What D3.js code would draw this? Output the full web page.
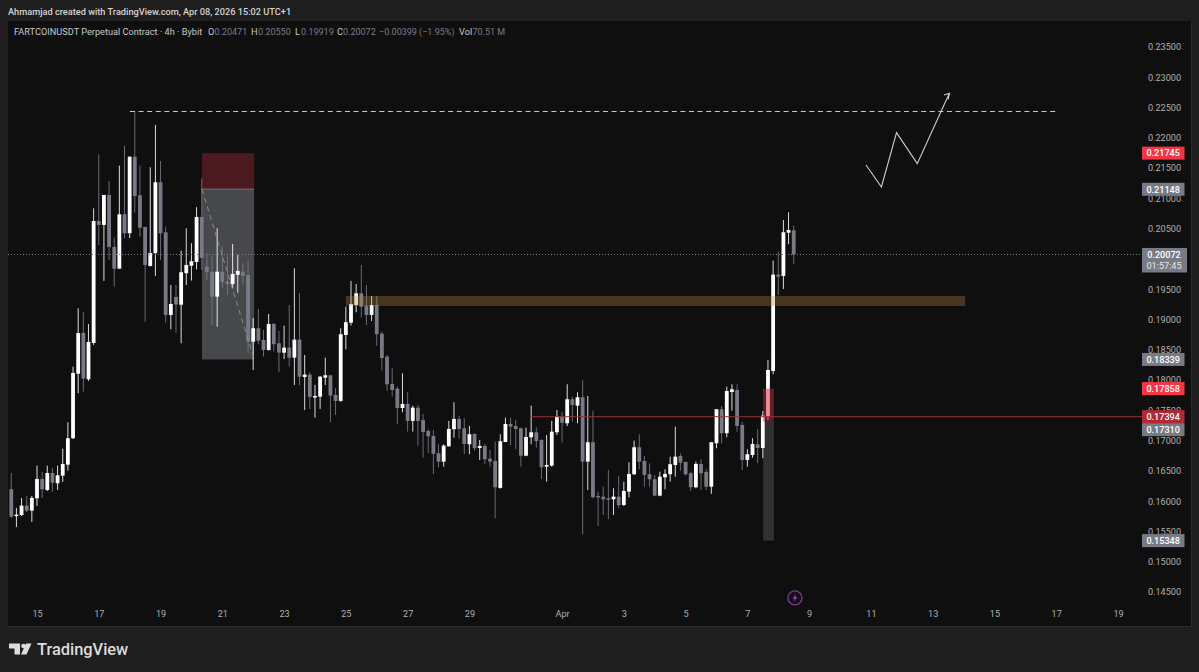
<!DOCTYPE html>
<html><head><meta charset="utf-8">
<script src="https://cdn.jsdelivr.net/npm/d3@7"></script>
<style>html,body{margin:0;padding:0;background:#1e1e1e}svg{display:block}text{font-family:Roboto,sans-serif}</style>
</head><body><div id="c"></div>
<script>
const opens=[.16185,.16196,.15764,.15772,.15926,.15843,.16047,.16366,.16185,.16465,.16295,.16421,.16602,.17038,.18104,.18776,.18012,.18611,.20625,.20559,.21054,.20196,.19838,.20735,.20422,.21686,.21049,.20526,.19882,.20092,.21264,.20438,.19073,.19370,.19243,.19762,.19887,.19948,.20691,.19871,.19783,.19375,.19788,.19623,.19585,.19739,.19788,.19734,.18633,.18854,.18661,.18496,.18925,.18606,.18451,.18534,.18368,.18666,.18050,.18088,.17715,.17725,.18038,.18078,.17753,.17654,.18743,.18946,.19238,.19431,.19227,.19073,.19238,.18765,.18385,.17934,.17857,.17538,.17604,.17324,.17543,.17340,.17159,.17076,.16790,.16652,.16906,.17187,.17357,.17203,.16939,.17109,.16878,.16911,.16701,.16663,.16218,.16977,.17274,.17241,.17203,.16751,.17054,.17137,.17010,.16569,.16586,.17137,.17395,.17286,.17682,.17576,.17715,.16652,.16972,.16086,.16074,.16047,.16031,.16074,.15937,.16157,.16444,.16889,.16663,.16444,.16361,.16091,.16394,.16444,.16597,.16746,.16647,.16460,.16229,.16614,.16482,.16239,.16955,.17517,.17121,.17802,.17835,.17257,.16680,.16762,.16939,.16878,.17395,.18149,.19739,.19717,.20432,.20471];
const highs=[.16217,.16465,.15888,.16053,.16086,.16086,.16586,.16482,.16586,.16548,.16586,.16866,.17302,.18220,.19184,.19118,.18925,.20834,.21726,.21054,.21285,.20349,.21538,.21868,.21686,.22429,.21538,.20526,.21511,.22210,.21616,.20531,.19569,.19569,.20135,.20505,.20257,.20851,.21330,.20097,.20052,.20505,.20201,.20064,.20245,.20064,.19932,.19981,.19019,.19172,.18826,.19090,.18941,.18809,.18897,.19238,.19844,.19432,.18413,.18127,.17918,.18066,.18368,.18083,.17863,.18854,.19210,.19635,.19585,.19899,.19569,.19387,.19387,.18798,.18413,.18193,.17890,.18111,.17797,.17576,.17588,.17439,.17187,.17175,.16939,.16939,.17324,.17632,.17411,.17368,.17241,.17120,.17010,.16944,.16845,.16982,.17104,.17378,.17378,.17340,.17213,.17213,.17576,.17220,.17021,.17092,.17324,.17505,.17477,.17929,.17725,.17797,.17996,.17736,.17494,.16157,.16239,.16515,.16213,.16416,.16322,.16642,.17000,.17104,.16746,.16625,.16432,.16487,.16526,.16734,.17229,.16790,.16652,.16487,.16652,.16691,.16526,.16972,.17517,.17571,.17890,.17929,.17929,.17312,.16856,.17038,.17187,.17489,.18331,.19970,.20118,.20641,.20769,.20550];
const lows=[.15821,.15722,.15574,.15755,.15821,.15656,.15920,.16053,.16168,.16157,.16185,.16317,.16503,.17026,.17781,.17807,.17984,.18578,.20229,.19635,.19981,.19541,.19833,.20339,.20344,.20762,.20366,.18963,.19874,.19717,.19981,.18946,.18837,.18781,.18606,.19569,.19640,.19827,.19816,.19651,.18908,.18880,.19519,.19403,.19514,.19441,.19569,.18446,.18165,.18590,.18385,.18484,.18468,.18127,.18347,.18220,.17918,.17913,.17505,.17522,.17378,.17522,.17918,.17302,.17423,.17642,.18507,.18897,.19118,.19035,.18908,.18974,.18562,.18154,.17819,.17725,.17269,.17467,.17147,.17147,.16916,.16718,.16790,.16449,.16559,.16569,.16899,.17048,.17038,.16779,.16774,.16833,.16680,.16609,.16569,.15717,.16206,.16972,.16927,.16856,.16569,.16741,.16939,.16883,.16366,.16322,.16569,.17092,.16965,.17241,.17312,.17286,.15453,.16185,.16047,.15590,.15772,.15701,.15772,.15882,.15920,.16064,.16432,.16526,.16239,.16239,.16081,.16081,.16196,.16322,.16404,.16503,.16421,.16168,.16213,.16185,.16185,.16119,.16873,.16955,.17054,.17494,.17147,.16515,.16569,.16718,.16625,.16708,.17340,.18094,.19403,.19502,.20240,.19919];
const closes=[.15855,.15744,.15777,.15926,.15843,.16053,.16366,.16196,.16465,.16305,.16427,.16614,.17038,.18116,.18776,.18022,.18628,.20625,.20559,.21054,.20196,.19838,.20735,.20422,.21686,.21038,.20514,.19899,.20097,.21264,.20422,.19073,.19255,.19247,.19778,.19899,.19960,.20691,.20014,.19783,.19375,.19788,.19613,.19585,.19750,.19800,.19717,.18633,.18854,.18649,.18496,.18925,.18590,.18451,.18534,.18368,.18666,.18055,.18088,.17720,.17736,.18055,.18078,.17741,.17654,.18755,.18953,.19255,.19431,.19210,.19073,.19238,.18755,.18363,.17929,.17835,.17538,.17604,.17324,.17543,.17324,.17142,.17071,.16779,.16652,.16916,.17192,.17357,.17192,.16944,.17104,.16873,.16911,.16691,.16652,.16229,.16988,.17274,.17230,.17192,.16751,.17060,.17137,.16993,.16559,.16597,.17147,.17395,.17295,.17682,.17588,.17715,.16652,.16972,.16064,.16064,.16031,.16024,.16074,.15932,.16168,.16449,.16889,.16652,.16432,.16361,.16091,.16404,.16449,.16609,.16734,.16635,.16444,.16229,.16614,.16460,.16239,.16972,.17517,.17121,.17819,.17847,.17241,.16680,.16774,.16944,.16878,.17411,.18165,.19739,.19705,.20438,.20476,.20072];

const priceTicks=[.145,.15,.155,.16,.165,.17,.175,.18,.185,.19,.195,.2,.205,.21,.215,.22,.225,.23,.235];
const timeTickDays=[15,17,19,21,23,25,27,29,32,34,36,38,40,42,44,46,48,50];
const timeTickLabels=["15","17","19","21","23","25","27","29","Apr","3","5","7","9","11","13","15","17","19"];
const labelPrices=[.21745,.21148,.18339,.17858,.17394,.17310,.15348];
const labelFills=["#f23645","#787b86","#787b86","#f23645","#b22833","#787b86","#787b86"];
const lastPrice=.20072, countdown="01:57:45";
const dashedLevel=.22441, dashedDays=[18.01,48.03];
const supplyBand=[.19222,.19387], supplyDays=[25.0,45.05];
const redLineDays=[30.99,39.4];
const positionDays=[20.34,22.03];
const entryDays=[38.51,38.86];
const pathDays=[41.84,42.34,42.83,43.50,44.54];
const pathPrices=[.21549,.21186,.22083,.21571,.22733];
const headDays=[44.37,44.54,44.50];
const headPrices=[.22705,.22733,.22630];
const boltDay=39.54, boltPrice=.14403;
const headerText="Ahmamjad created with TradingView.com, Apr 08, 2026 15:02 UTC+1";

const W=1199,H=672;
const dayDate=d=>new Date(Date.UTC(2026,2,1)+(d-1)*864e5);
const x=d3.scaleUtc().domain([dayDate(15),dayDate(50)]).range([37,1118]);
const y=d3.scaleLinear().domain([.235,.145]).range([46.8,592]);
const X=d=>x(dayDate(d));
const start=Date.UTC(2026,2,14);
const candles=opens.map((o,i)=>({t:new Date(start+i*4*36e5),o,h:highs[i],l:lows[i],c:closes[i]}));

const svg=d3.select("#c").append("svg").attr("width",W).attr("height",H);
svg.append("defs").append("clipPath").attr("id","pane").append("rect").attr("x",8).attr("y",21).attr("width",1183).attr("height",605);
svg.append("rect").attr("width",W).attr("height",H).attr("fill","#1e1e1e");
svg.append("rect").attr("x",8).attr("y",21).attr("width",1183).attr("height",605).attr("fill","#0f0f0f");
svg.append("rect").attr("x",1191).attr("y",21).attr("width",1).attr("height",605).attr("fill","#2a2a2a");
svg.append("rect").attr("x",8).attr("y",626).attr("width",1184).attr("height",1).attr("fill","#2a2a2a");

const pane=svg.append("g").attr("clip-path","url(#pane)");
const zr=(d0,d1,p0,p1,fill)=>pane.append("rect").attr("x",X(d0)).attr("width",X(d1)-X(d0)).attr("y",y(p0)).attr("height",y(p1)-y(p0)).attr("fill",fill);
zr(positionDays[0],positionDays[1],labelPrices[0],labelPrices[1],"#4a1a1e");
zr(positionDays[0],positionDays[1],labelPrices[1],labelPrices[2],"#47484c");
pane.append("line").attr("x1",X(positionDays[0])).attr("x2",X(positionDays[1])).attr("y1",y(labelPrices[1])).attr("y2",y(labelPrices[1])).attr("stroke","#6a5a5e").attr("stroke-width",1.5);
zr(entryDays[0],entryDays[1],labelPrices[5],labelPrices[6],"#303133");

const cg=pane.append("g").selectAll("g").data(candles).join("g");
const col=d=>d.c>=d.o?"#ffffff":"#787b86";
cg.append("line").attr("x1",d=>x(d.t)).attr("x2",d=>x(d.t))
  .attr("y1",d=>y(d.h)).attr("y2",d=>y(d.l)).attr("stroke",col).attr("stroke-width",1).attr("stroke-opacity",.85);
cg.append("rect").attr("x",d=>x(d.t)-1.9).attr("width",3.8)
  .attr("y",d=>y(Math.max(d.o,d.c))).attr("height",d=>Math.max(1.5,Math.abs(y(d.o)-y(d.c)))).attr("fill",col);

pane.append("line").attr("x1",X(positionDays[0])).attr("x2",X(positionDays[1])).attr("y1",y(labelPrices[1])).attr("y2",y(labelPrices[2]))
  .attr("stroke","#8a8b90").attr("stroke-width",1).attr("stroke-dasharray","5 4");
pane.append("rect").attr("x",X(supplyDays[0])).attr("width",X(supplyDays[1])-X(supplyDays[0])).attr("y",y(supplyBand[1])).attr("height",y(supplyBand[0])-y(supplyBand[1])).attr("fill","rgb(184,134,60)").attr("fill-opacity",.33);
pane.append("rect").attr("x",X(entryDays[0])).attr("width",X(entryDays[1])-X(entryDays[0])).attr("y",y(labelPrices[3])).attr("height",y(labelPrices[5])-y(labelPrices[3])).attr("fill","rgb(200,40,55)").attr("fill-opacity",.5);
pane.append("line").attr("x1",X(redLineDays[0])).attr("x2",1142).attr("y1",y(labelPrices[4])).attr("y2",y(labelPrices[4])).attr("stroke","#94303a").attr("stroke-width",1);
pane.append("line").attr("x1",8).attr("x2",1142).attr("y1",Math.round(y(lastPrice))+.5).attr("y2",Math.round(y(lastPrice))+.5).attr("stroke","#787b86").attr("stroke-dasharray","1 2").attr("stroke-width",1);
pane.append("line").attr("x1",X(dashedDays[0])).attr("x2",X(dashedDays[1])).attr("y1",Math.round(y(dashedLevel))+.5).attr("y2",Math.round(y(dashedLevel))+.5).attr("stroke","#c8c8c8").attr("stroke-dasharray","5 3.6").attr("stroke-width",1);
const ln=d3.line().x(d=>X(d[0])).y(d=>y(d[1]));
pane.append("path").attr("d",ln(pathDays.map((d,i)=>[d,pathPrices[i]]))).attr("fill","none").attr("stroke","#cfcfcf").attr("stroke-width",1.1);
pane.append("path").attr("d",ln(headDays.map((d,i)=>[d,headPrices[i]]))).attr("fill","none").attr("stroke","#cfcfcf").attr("stroke-width",1.1);
const bg=pane.append("g").attr("transform",`translate(${X(boltDay)},${y(boltPrice)})`);
bg.append("circle").attr("r",7).attr("fill","#160e19").attr("stroke","#7e3a92").attr("stroke-width",1.3);
bg.append("path").attr("d","M1,-4.2L-2.4,0.8H-0.2L-1,4.2L2.4,-0.8H0.2Z").attr("fill","#9a3fb5");

const AXF=9.1;
const yAxis=d3.axisRight(y).tickValues(priceTicks).tickFormat(d3.format(".5f")).tickSize(0).tickPadding(0);
const gy=svg.append("g").attr("transform","translate(1148,0)").call(yAxis);
gy.select(".domain").remove();
gy.selectAll("text").attr("fill","#b0b0b0").attr("font-size",AXF).attr("font-family","Roboto,sans-serif");
const xAxis=d3.axisBottom(x).tickValues(timeTickDays.map(dayDate)).tickFormat((d,i)=>timeTickLabels[i]).tickSize(0).tickPadding(0);
const gx=svg.append("g").attr("transform","translate(0,611)").call(xAxis);
gx.select(".domain").remove();
gx.selectAll("text").attr("fill","#b0b0b0").attr("font-size",AXF).attr("font-family","Roboto,sans-serif");

const fmt=d3.format(".5f");
let prevBottom=-1e9;
labelPrices.forEach((p,i)=>{
  const cy=Math.max(y(p),prevBottom+6.5);   // stacked like the platform does when two labels collide
  prevBottom=cy+6.5;
  svg.append("rect").attr("x",1142).attr("width",42.5).attr("y",cy-6.5).attr("height",13).attr("fill",labelFills[i]);
  svg.append("text").attr("x",1163.2).attr("y",cy+3.3).attr("text-anchor","middle").attr("fill","#fff").attr("font-size",AXF).attr("font-weight",500).text(fmt(p));
});
const ly=y(lastPrice);
svg.append("rect").attr("x",1142).attr("width",45).attr("y",ly-6.5).attr("height",24.5).attr("fill","#787b86");
svg.append("text").attr("x",1164).attr("y",ly+3.3).attr("text-anchor","middle").attr("fill","#fff").attr("font-size",AXF).attr("font-weight",500).text(fmt(lastPrice));
svg.append("text").attr("x",1164).attr("y",ly+14.2).attr("text-anchor","middle").attr("fill","#e6e6e6").attr("font-size",AXF).text(countdown);

svg.append("text").attr("x",8).attr("y",14.6).attr("fill","#d4d4d4").attr("font-size",9.2).attr("font-weight",500).text(headerText);
const legend=[["FARTCOINUSDT Perpetual Contract · 4h · Bybit",14,"#c8c8c8",9.2],["O",208,"#c8c8c8",9.2],["0.20471",214.5,"#787b86",9],["H",251,"#c8c8c8",9.2],["0.20550",258,"#787b86",9],["L",295,"#c8c8c8",9.2],["0.19919",301,"#787b86",9],["C",337,"#c8c8c8",9.2],["0.20072",343,"#787b86",9],["−0.00399 (−1.95%)",379,"#787b86",9],["Vol",459,"#c8c8c8",9.2],["70.51 M",472.5,"#787b86",9]];
legend.forEach(l=>svg.append("text").attr("x",l[1]).attr("y",34.6).attr("fill",l[2]).attr("font-size",l[3]).text(l[0]));

const logo=svg.append("g").attr("fill","#dcdcdc");
logo.append("path").attr("d","M9,643.5H20V654.5H14.5V648.5H9Z");
logo.append("circle").attr("cx",23.5).attr("cy",646).attr("r",2.3);
logo.append("path").attr("d","M26,643.5H31.5L26.5,654.5H21Z");
svg.append("text").attr("x",37).attr("y",655).attr("fill","#dcdcdc").attr("font-size",16.4).attr("font-weight",500).attr("font-family","Inter,Roboto,sans-serif").text("TradingView");
</script></body></html>
